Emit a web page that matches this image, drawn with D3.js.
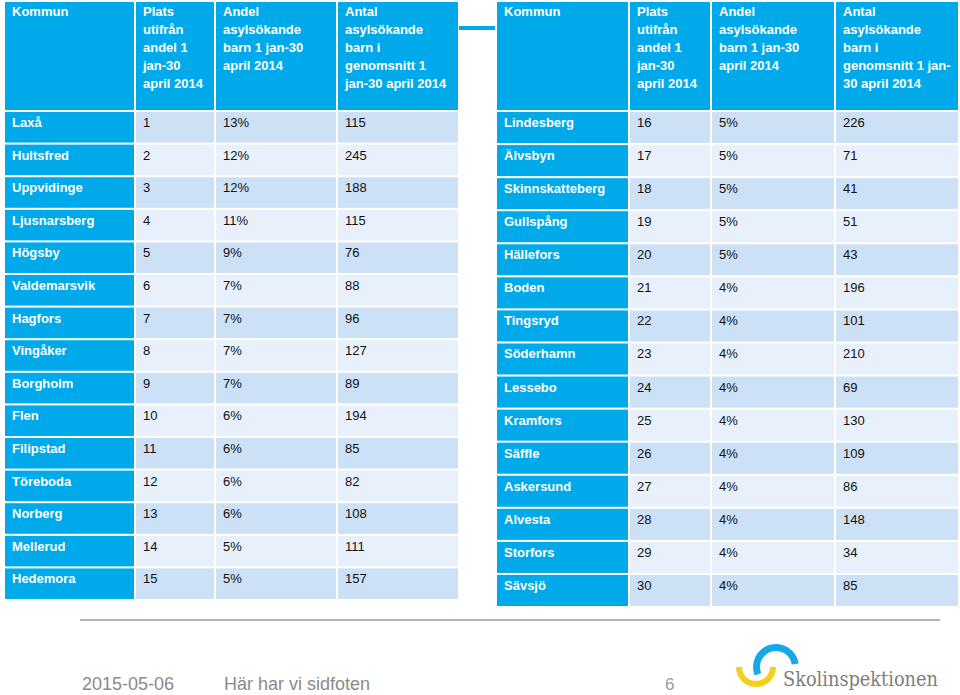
<!DOCTYPE html>
<html><head><meta charset="utf-8">
<script src="https://cdn.jsdelivr.net/npm/d3@7"></script>
<style>html,body{margin:0;padding:0;background:#fff}svg{display:block}</style>
</head><body>
<script>
const kommuner = ["Laxå","Hultsfred","Uppvidinge","Ljusnarsberg","Högsby","Valdemarsvik","Hagfors","Vingåker","Borgholm","Flen","Filipstad","Töreboda","Norberg","Mellerud","Hedemora",
  "Lindesberg","Älvsbyn","Skinnskatteberg","Gullspång","Hällefors","Boden","Tingsryd","Söderhamn","Lessebo","Kramfors","Säffle","Askersund","Alvesta","Storfors","Sävsjö"];
const plats = d3.range(1, 31);
const andel = [13,12,12,11,9,7,7,7,7,6,6,6,6,5,5, 5,5,5,5,5,4,4,4,4,4,4,4,4,4,4];
const antal = [115,245,188,115,76,88,96,127,89,194,85,82,108,111,157, 226,71,41,51,43,196,101,210,69,130,109,86,148,34,85];
const headersLeft = [["Kommun"],["Plats","utifrån","andel 1","jan-30","april 2014"],["Andel","asylsökande","barn 1 jan-30","april 2014"],["Antal","asylsökande","barn i","genomsnitt 1","jan-30 april 2014"]];
const headersRight = [["Kommun"],["Plats","utifrån","andel 1","jan-30","april 2014"],["Andel","asylsökande","barn 1 jan-30","april 2014"],["Antal","asylsökande","barn i","genomsnitt 1 jan-","30 april 2014"]];
const footerDate = "2015-05-06", footerText = "Här har vi sidfoten", pageNo = "6", logoText = "Skolinspektionen";

const W = 960, H = 695;
const BLUE = "#00aaea", DARK = "#cce0f6", LIGHT = "#e8f1fb";
const svg = d3.select("body").append("svg").attr("width", W).attr("height", H);
const FONT = "Liberation Sans, Arial, sans-serif";

const rows = kommuner.map((k, i) => ({kommun: k, plats: plats[i], andel: andel[i] + "%", antal: antal[i]}));

function drawTable(data, headers, colX, colW, yRange) {
  const g = svg.append("g");
  const y = d3.scaleBand().domain(d3.range(data.length)).range(yRange).paddingInner(0.062);
  const cols = ["kommun","plats","andel","antal"];
  headers.forEach((lines, c) => {
    g.append("rect").attr("x", colX[c]).attr("y", 2).attr("width", colW[c]).attr("height", 108).attr("fill", BLUE);
    const t = g.append("text").attr("x", colX[c] + 7).attr("y", 16)
      .attr("font-family", FONT).attr("font-size", 13).attr("font-weight", "bold").attr("fill", "#fff");
    t.selectAll("tspan").data(lines).join("tspan").attr("x", colX[c] + 7).attr("dy", (d, i) => i ? 18 : 0).text(d => d);
  });
  const r = g.selectAll("g.row").data(data).join("g").attr("class", "row");
  cols.forEach((key, c) => {
    r.append("rect").attr("x", colX[c]).attr("y", (d, i) => y(i)).attr("width", colW[c]).attr("height", y.bandwidth())
      .attr("fill", (d, i) => c === 0 ? BLUE : (i % 2 === 0 ? DARK : LIGHT));
    r.append("text").attr("x", colX[c] + 7).attr("y", (d, i) => y(i) + 15)
      .attr("font-family", FONT).attr("font-size", 13)
      .attr("font-weight", c === 0 ? "bold" : "normal")
      .attr("fill", c === 0 ? "#fff" : "#111").text(d => d[key]);
  });
}

drawTable(rows.slice(0, 15), headersLeft, [5, 136, 216, 338], [129, 78, 120, 120], [112, 599]);
drawTable(rows.slice(15), headersRight, [497, 630, 712, 836], [131, 80, 122, 122], [112, 606]);

svg.append("rect").attr("x", 459).attr("y", 26).attr("width", 36).attr("height", 4).attr("fill", BLUE);

svg.append("line").attr("x1", 80).attr("x2", 940).attr("y1", 620).attr("y2", 620).attr("stroke", "#9a9a9a").attr("stroke-width", 1.5);

svg.append("text").attr("x", 82).attr("y", 690).attr("font-family", FONT).attr("font-size", 18).attr("fill", "#8a8a8a").text(footerDate);
svg.append("text").attr("x", 224).attr("y", 690).attr("font-family", FONT).attr("font-size", 18).attr("fill", "#8a8a8a").text(footerText);
svg.append("text").attr("x", 665).attr("y", 690).attr("font-family", FONT).attr("font-size", 17).attr("fill", "#9a9a9a").text(pageNo);

const arc = d3.arc();
svg.append("path").attr("transform", "translate(756,667)")
  .attr("d", arc({innerRadius: 14, outerRadius: 20, startAngle: Math.PI * 0.5, endAngle: Math.PI * 1.5, cornerRadius: 3}))
  .attr("fill", "#f7cf1a");
svg.append("path").attr("transform", "translate(776,667)")
  .attr("d", arc({innerRadius: 16, outerRadius: 23, startAngle: -Math.PI * 0.62, endAngle: Math.PI * 0.45, cornerRadius: 3}))
  .attr("fill", "#16a9e6");
svg.append("text").attr("x", 783).attr("y", 686).attr("font-family", "DejaVu Serif, serif").attr("font-size", 20)
  .attr("fill", "#7d7d7d").attr("textLength", 155).attr("lengthAdjust", "spacingAndGlyphs").text(logoText);
</script>
</body></html>
